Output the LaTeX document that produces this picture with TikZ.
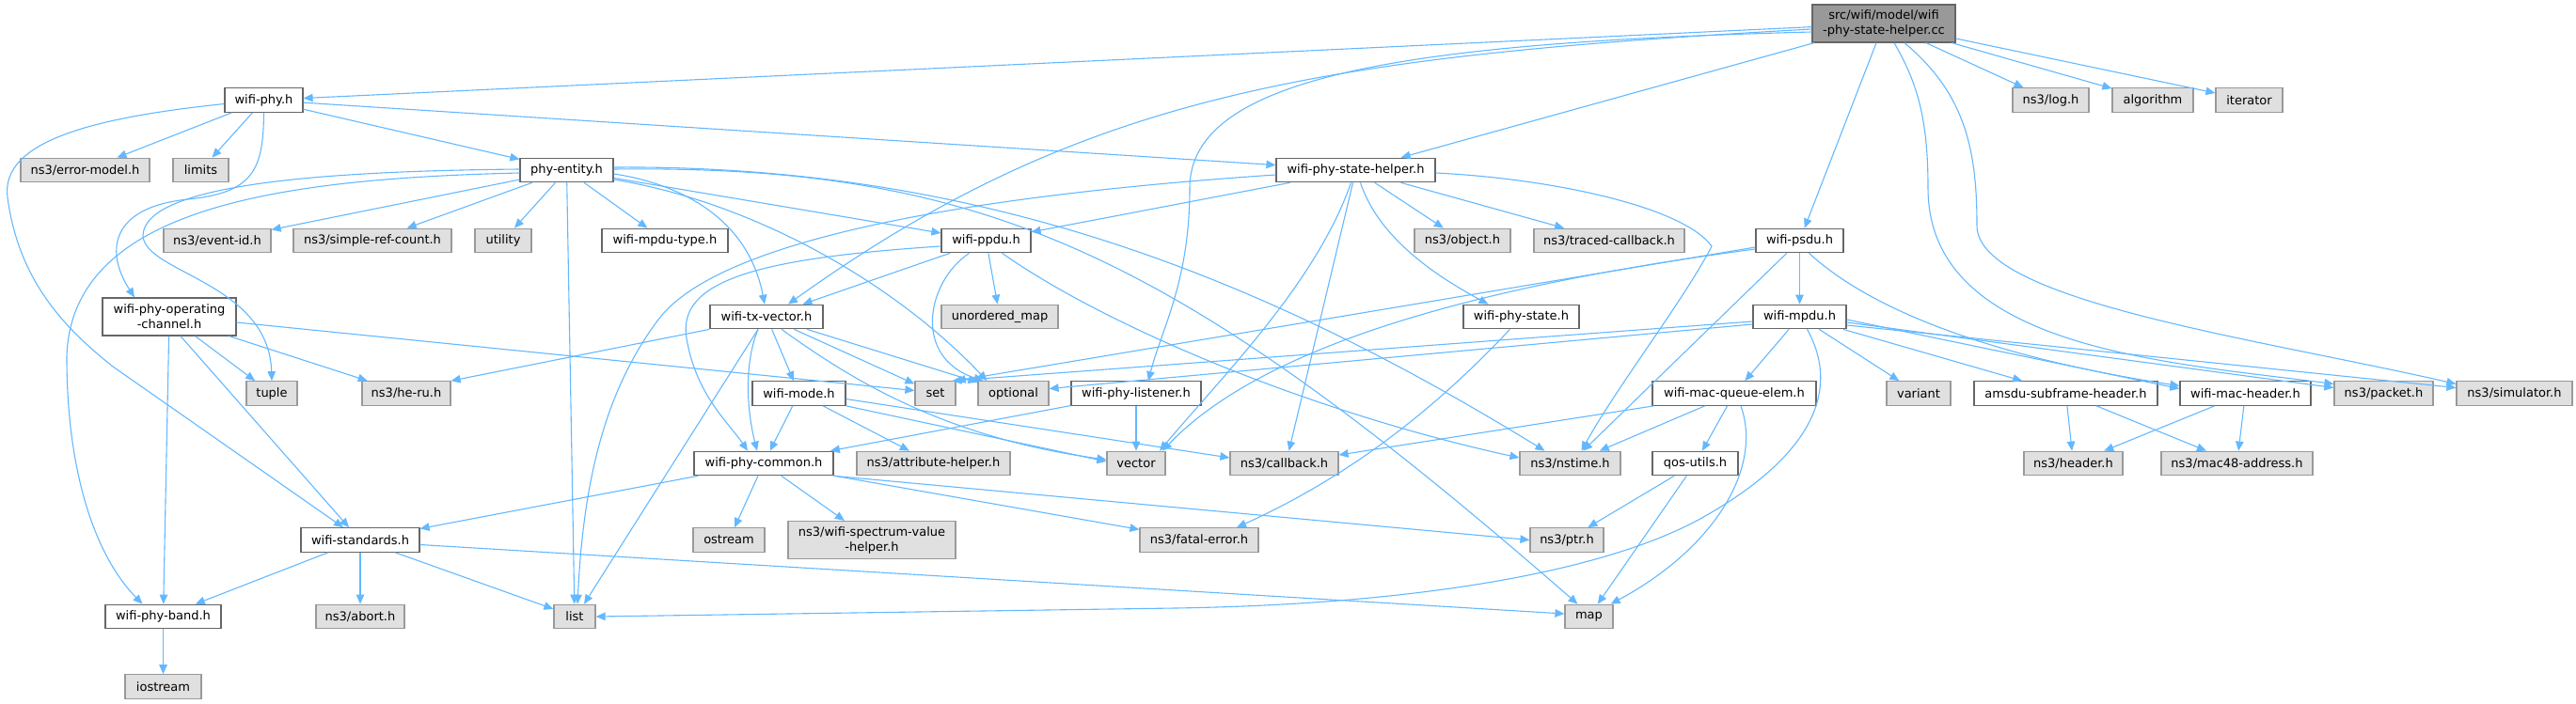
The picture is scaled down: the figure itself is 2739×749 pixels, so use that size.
\documentclass[tikz,border=0pt]{standalone}
\usepackage{fontspec}
\setmainfont{DejaVu Sans}
\usetikzlibrary{arrows.meta}
\definecolor{edgeblue}{HTML}{63B8FF}
\definecolor{docborder}{HTML}{666666}
\definecolor{extborder}{HTML}{999999}
\definecolor{extfill}{HTML}{E0E0E0}
\definecolor{rootfill}{HTML}{999999}
\tikzset{
  base/.style={rectangle, inner sep=0pt, minimum height=25.5pt, line width=1.2pt, align=center, font=\fontsize{13pt}{16pt}\selectfont},
  doc/.style={base, draw=docborder, fill=white},
  ext/.style={base, draw=extborder, fill=extfill},
  root/.style={base, draw=docborder, fill=rootfill},
  dep/.style={draw=edgeblue, line width=1.1pt, -{Triangle[length=10pt,width=8.5pt]}}
}
\begin{document}
\begin{tikzpicture}[x=1pt,y=-1pt]
\useasboundingbox (0,0) rectangle (2739,749);
% row 1
\node[root, minimum width=152pt, minimum height=40pt] (cc) at (2003,25) {src/wifi/model/wifi\\-phy-state-helper.cc};
% row 2
\node[doc, minimum width=83pt] (wphy) at (280.5,106.5) {wifi-phy.h};
\node[ext, minimum width=81pt] (log) at (2180.5,106.5) {ns3/log.h};
\node[ext, minimum width=86pt] (algo) at (2289,106.5) {algorithm};
\node[ext, minimum width=71pt] (iter) at (2391.5,106.5) {iterator};
% row 3
\node[ext, minimum width=137pt] (errm) at (90.5,181) {ns3/error-model.h};
\node[ext, minimum width=59pt] (limits) at (213.5,181) {limits};
\node[doc, minimum width=99pt] (phye) at (602.5,181) {phy-entity.h};
\node[doc, minimum width=169pt] (wpsh) at (1441.5,181) {wifi-phy-state-helper.h};
% row 4
\node[ext, minimum width=114pt] (evid) at (231,256) {ns3/event-id.h};
\node[ext, minimum width=168pt] (srefc) at (396,256) {ns3/simple-ref-count.h};
\node[ext, minimum width=60pt] (util) at (535,256) {utility};
\node[doc, minimum width=134pt] (mpdut) at (707,256) {wifi-mpdu-type.h};
\node[doc, minimum width=95pt] (ppdu) at (1048.5,256) {wifi-ppdu.h};
\node[ext, minimum width=102pt] (obj) at (1555,256) {ns3/object.h};
\node[ext, minimum width=160pt] (tcb) at (1711,256) {ns3/traced-callback.h};
\node[doc, minimum width=93pt] (psdu) at (1913.5,256) {wifi-psdu.h};
% row 5
\node[doc, minimum width=142pt, minimum height=40pt] (opch) at (180,337) {wifi-phy-operating\\-channel.h};
\node[doc, minimum width=120pt] (txv) at (815,337) {wifi-tx-vector.h};
\node[ext, minimum width=124pt] (umap) at (1063,337) {unordered\_map};
\node[doc, minimum width=123pt] (wpst) at (1617.5,337) {wifi-phy-state.h};
\node[doc, minimum width=99pt] (mpdu) at (1913.5,337) {wifi-mpdu.h};
% row 6
\node[ext, minimum width=54pt] (tuple) at (289,418.5) {tuple};
\node[ext, minimum width=94pt] (heru) at (432,418.5) {ns3/he-ru.h};
\node[doc, minimum width=99pt] (mode) at (849.5,418.5) {wifi-mode.h};
\node[ext, minimum width=43pt] (set) at (994.5,418.5) {set};
\node[ext, minimum width=75pt] (opt) at (1077.5,418.5) {optional};
\node[doc, minimum width=138pt] (lsn) at (1208,418.5) {wifi-phy-listener.h};
\node[doc, minimum width=174pt] (mqe) at (1844,418.5) {wifi-mac-queue-elem.h};
\node[ext, minimum width=68pt] (variant) at (2040,418.5) {variant};
\node[doc, minimum width=195pt] (amsdu) at (2196.5,418.5) {amsdu-subframe-header.h};
\node[doc, minimum width=139pt] (wmh) at (2387.5,418.5) {wifi-mac-header.h};
\node[ext, minimum width=105pt] (pkt) at (2534.5,418.5) {ns3/packet.h};
\node[ext, minimum width=123pt] (sim) at (2673.5,418.5) {ns3/simulator.h};
% row 7
\node[doc, minimum width=148pt] (common) at (812,493) {wifi-phy-common.h};
\node[ext, minimum width=163pt] (attr) at (992.5,493) {ns3/attribute-helper.h};
\node[ext, minimum width=62pt] (vector) at (1208,493) {vector};
\node[ext, minimum width=115pt] (cb) at (1365.5,493) {ns3/callback.h};
\node[ext, minimum width=107pt] (nstime) at (1669.5,493) {ns3/nstime.h};
\node[doc, minimum width=91pt] (qos) at (1802.5,493) {qos-utils.h};
\node[ext, minimum width=105pt] (hdr) at (2204.5,493) {ns3/header.h};
\node[ext, minimum width=161pt] (mac48) at (2378.5,493) {ns3/mac48-address.h};
% row 8
\node[doc, minimum width=126pt] (std) at (383,574.5) {wifi-standards.h};
\node[ext, minimum width=76pt] (ostream) at (775,574.5) {ostream};
\node[ext, minimum width=178pt, minimum height=40pt] (spec) at (927,574.5) {ns3/wifi-spectrum-value\\-helper.h};
\node[ext, minimum width=126pt] (fatal) at (1275,574.5) {ns3/fatal-error.h};
\node[ext, minimum width=78pt] (ptr) at (1666,574.5) {ns3/ptr.h};
% row 9
\node[doc, minimum width=123pt] (band) at (173.5,656) {wifi-phy-band.h};
\node[ext, minimum width=94pt] (abort) at (383,656) {ns3/abort.h};
\node[ext, minimum width=44pt] (list) at (611,656) {list};
\node[ext, minimum width=51pt] (map) at (1689.5,656) {map};
% row 10
\node[ext, minimum width=81pt] (iostream) at (173.5,730.5) {iostream};

% ---- edges from the .cc file
\draw[dep] (cc) -- (wphy);
\draw[dep] ([yshift=-6pt]cc.west) .. controls (1400,60) and (1150,100) .. ([xshift=23pt]txv.north);
\draw[dep] ([yshift=-9pt]cc.west) .. controls (1500,45) and (1265,80) .. (1265,200) .. controls (1265,300) and (1235,350) .. ([xshift=13pt]lsn.north);
\draw[dep] (cc) -- (wpsh);
\draw[dep] (cc) -- (psdu);
\draw[dep] (cc) -- (log);
\draw[dep] (cc) -- (algo);
\draw[dep] (cc) -- (iter);
\draw[dep] ([xshift=11pt]cc.south) .. controls (2040,90) and (2050,130) .. (2050,200) .. controls (2050,370) and (2300,385) .. ([yshift=10pt]pkt.west);
\draw[dep] ([xshift=22pt]cc.south) .. controls (2090,100) and (2102,160) .. (2102,240) .. controls (2102,320) and (2400,360) .. ([yshift=10pt]sim.west);

% ---- wifi-phy.h
\draw[dep] (wphy) -- (errm);
\draw[dep] (wphy) -- (limits);
\draw[dep] (wphy) -- (phye);
\draw[dep] (wphy) -- (wpsh);
\draw[dep] (wphy.south) .. controls (280,180) and (270,205) .. (200,212) .. controls (120,220) and (110,265) .. ([xshift=-37pt]opch.north);
\draw[dep] ([yshift=-4pt]wphy.west) .. controls (100,125) and (0,150) .. (8,210) .. controls (20,300) and (70,350) .. (120,390) -- ([xshift=-18pt]std.north);

% ---- phy-entity.h
\draw[dep] (phye) -- (evid);
\draw[dep] (phye) -- (srefc);
\draw[dep] (phye) -- (util);
\draw[dep] (phye) -- (mpdut);
\draw[dep] (phye) -- (list);
\draw[dep] ([yshift=1pt]phye.west) .. controls (350,182) and (155,195) .. (152,250) .. controls (152,290) and (286,300) .. (tuple.north);
\draw[dep] ([yshift=-3pt]phye.west) .. controls (300,190) and (75,220) .. (71,380) .. controls (71,500) and (100,590) .. ([xshift=-22pt]band.north);
\draw[dep] (phye) -- (ppdu);
\draw[dep] ([yshift=-4pt]phye.east) .. controls (720,195) and (795,230) .. ([xshift=-2pt]txv.north);
\draw[dep] ([yshift=-10pt]phye.east) .. controls (800,215) and (950,300) .. ([xshift=-28pt]opt.north);
\draw[dep] ([yshift=3pt]phye.east) .. controls (1050,175) and (1350,300) .. ([xshift=-27pt]nstime.north);
\draw[dep] ([yshift=1pt]phye.east) .. controls (1050,175) and (1250,270) .. ([xshift=-12pt]map.north);

% ---- wifi-phy-state-helper.h
\draw[dep] (wpsh) -- (ppdu);
\draw[dep] ([yshift=-5pt]wpsh.west) .. controls (1000,210) and (760,260) .. (700,340) .. controls (640,420) and (620,520) .. ([xshift=3pt]list.north);
\draw[dep] ([xshift=-5pt]wpsh.south) .. controls (1400,300) and (1300,400) .. ([xshift=25pt]vector.north);
\draw[dep] ([xshift=-3pt]wpsh.south) -- ([xshift=5pt]cb.north);
\draw[dep] ([xshift=5pt]wpsh.south) .. controls (1465,250) and (1520,290) .. ([xshift=-35pt]wpst.north);
\draw[dep] (wpsh) -- (obj);
\draw[dep] (wpsh) -- (tcb);
\draw[dep] ([yshift=-3pt]wpsh.east) .. controls (1650,190) and (1790,220) .. (1820,262) .. controls (1790,320) and (1720,410) .. ([xshift=12pt]nstime.north);

% ---- wifi-ppdu.h
\draw[dep] (ppdu) -- (txv);
\draw[dep] ([yshift=-6pt]ppdu.west) .. controls (800,275) and (720,300) .. (730,360) .. controls (740,420) and (775,450) .. ([xshift=-17pt]common.north);
\draw[dep] (ppdu) -- (umap);
\draw[dep] ([xshift=-18pt]ppdu.south) .. controls (985,300) and (970,380) .. ([xshift=-32pt]opt.north);
\draw[dep] ([xshift=17pt]ppdu.south) .. controls (1180,350) and (1400,440) .. ([yshift=6pt]nstime.west);

% ---- wifi-tx-vector.h
\draw[dep] (txv.south west) -- (heru.north east);
\draw[dep] ([xshift=-9pt]txv.south) -- ([xshift=10pt]list.north);
\draw[dep] ([xshift=-9pt]txv.south) .. controls (790,390) and (795,440) .. ([xshift=-7pt]common.north);
\draw[dep] (txv) -- (mode);
\draw[dep] (txv) -- (set);
\draw[dep] (txv) -- (opt);
\draw[dep] ([xshift=16pt]txv.south) .. controls (900,400) and (1000,465) .. ([yshift=4pt]vector.west);

% ---- wifi-phy-operating-channel.h
\draw[dep] (opch) -- (band);
\draw[dep] ([xshift=12pt]opch.south) -- ([xshift=-12pt]std.north);
\draw[dep] (opch) -- (tuple);
\draw[dep] (opch) -- (heru);
\draw[dep] ([yshift=-6pt]opch.east) -- ([yshift=3pt]set.west);

% ---- wifi-standards.h
\draw[dep] (std) -- (band);
\draw[dep] (std) -- (abort);
\draw[dep] (std) -- (list);
\draw[dep] ([yshift=-5pt]std.east) -- ([yshift=3pt]map.west);
\draw[dep] (band) -- (iostream);

% ---- wifi-phy-common.h
\draw[dep] (common) -- (std);
\draw[dep] (common) -- (ostream);
\draw[dep] (common) -- (spec);
\draw[dep] (common) -- (fatal);
\draw[dep] (common.south east) -- (ptr.west);

% ---- wifi-mode.h
\draw[dep] (mode) -- (common);
\draw[dep] (mode) -- (attr);
\draw[dep] (mode.south east) -- ([yshift=2pt]vector.west);
\draw[dep] ([yshift=-6pt]mode.east) -- ([yshift=6pt]cb.west);

% ---- wifi-phy-listener.h
\draw[dep] (lsn) -- (common);
\draw[dep] (lsn) -- (vector);

% ---- wifi-psdu.h
\draw[dep] ([yshift=-7pt]psdu.west) -- (set.north east);
\draw[dep] ([yshift=-9pt]psdu.west) .. controls (1600,300) and (1350,360) .. ([xshift=28pt]vector.north);
\draw[dep] (psdu) -- (nstime);
\draw[dep] (psdu) -- (mpdu);
\draw[dep] ([xshift=10pt]psdu.south) .. controls (2000,340) and (2150,385) .. ([yshift=8pt]wmh.west);

% ---- wifi-mpdu.h
\draw[dep] ([yshift=-5pt]mpdu.west) -- ([xshift=-4pt]set.north east);
\draw[dep] ([yshift=-8pt]mpdu.west) -- ([yshift=5pt]opt.east);
\draw[dep] ([xshift=8pt]mpdu.south) .. controls (1960,420) and (1920,490) .. (1806,553) .. controls (1700,610) and (1500,643) .. (1250,647) -- (list.east);
\draw[dep] (mpdu) -- (mqe);
\draw[dep] (mpdu) -- (variant);
\draw[dep] (mpdu) -- (amsdu);
\draw[dep] ([yshift=-3pt]mpdu.east) -- ([yshift=5pt]wmh.west);
\draw[dep] ([yshift=-6pt]mpdu.east) -- ([yshift=6pt]pkt.west);
\draw[dep] ([yshift=-9pt]mpdu.east) -- ([yshift=6pt]sim.west);

% ---- wifi-mac-queue-elem.h
\draw[dep] (mqe) -- (cb);
\draw[dep] (mqe) -- (nstime);
\draw[dep] (mqe) -- (qos);
\draw[dep] ([xshift=7pt]mqe.south) .. controls (1875,500) and (1820,585) .. ([xshift=-3pt]map.north east);

% ---- others
\draw[dep] (qos) -- (ptr);
\draw[dep] (qos) -- (map);
\draw[dep] ([xshift=-12pt]wpst.south) .. controls (1540,420) and (1450,500) .. ([xshift=40pt]fatal.north);
\draw[dep] (amsdu) -- (hdr);
\draw[dep] (amsdu) -- (mac48);
\draw[dep] (wmh) -- (hdr);
\draw[dep] (wmh) -- (mac48);
\end{tikzpicture}
\end{document}
